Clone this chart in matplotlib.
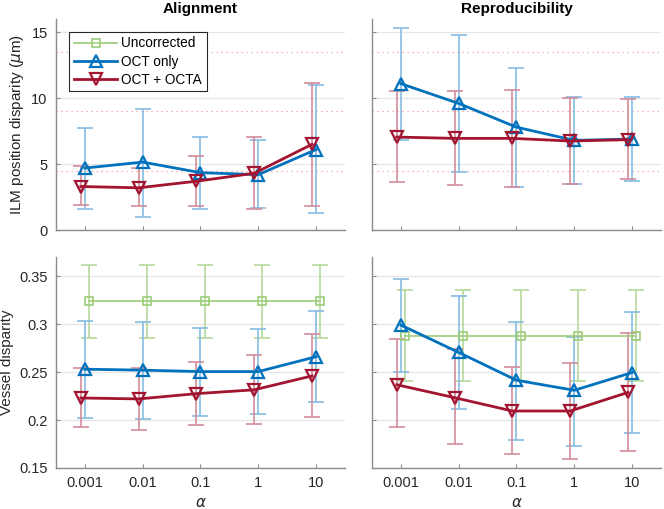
import matplotlib
matplotlib.use('Agg')
import matplotlib.pyplot as plt
import numpy as np

plt.rcParams['font.family'] = ['Liberation Sans', 'DejaVu Sans']
plt.rcParams['mathtext.fontset'] = 'dejavusans'

ALPHAS = [0.001, 0.01, 0.1, 1, 10]
ALPHA_LABELS = ['0.001', '0.01', '0.1', '1', '10']

# ILM position disparity (um) -- alignment
ilm_align_oct = [4.7, 5.15, 4.35, 4.2, 6.1]
ilm_align_oct_lo = [1.6, 1.0, 1.57, 1.64, 1.26]
ilm_align_oct_hi = [7.75, 9.2, 7.07, 6.8, 11.0]
ilm_align_octa = [3.3, 3.2, 3.7, 4.3, 6.5]
ilm_align_octa_lo = [1.9, 1.82, 1.82, 1.62, 1.82]
ilm_align_octa_hi = [4.87, 4.67, 5.58, 7.02, 11.16]

# ILM position disparity (um) -- reproducibility
ilm_repro_oct = [11.1, 9.6, 7.8, 6.8, 6.9]
ilm_repro_oct_lo = [6.8, 4.4, 3.23, 3.46, 3.74]
ilm_repro_oct_hi = [15.3, 14.8, 12.25, 10.1, 10.05]
ilm_repro_octa = [7.05, 6.95, 6.95, 6.75, 6.85]
ilm_repro_octa_lo = [3.66, 3.38, 3.28, 3.48, 3.84]
ilm_repro_octa_hi = [10.55, 10.55, 10.63, 10.0, 9.9]

# reference levels (dotted) in the ILM panels
ilm_ref_levels = [4.5, 9.0, 13.5]

# vessel disparity -- alignment
ves_align_unc = [0.324] * 5
ves_align_unc_lo = [0.286] * 5
ves_align_unc_hi = [0.362] * 5
ves_align_oct = [0.253, 0.252, 0.2505, 0.2505, 0.266]
ves_align_oct_lo = [0.2024, 0.2007, 0.2045, 0.2066, 0.2184]
ves_align_oct_hi = [0.3035, 0.3024, 0.2962, 0.2948, 0.3139]
ves_align_octa = [0.223, 0.222, 0.2275, 0.2315, 0.246]
ves_align_octa_lo = [0.193, 0.1896, 0.1948, 0.1962, 0.2035]
ves_align_octa_hi = [0.2538, 0.2545, 0.26, 0.2677, 0.2896]

# vessel disparity -- reproducibility
ves_repro_unc = [0.288] * 5
ves_repro_unc_lo = [0.2406] * 5
ves_repro_unc_hi = [0.3354] * 5
ves_repro_oct = [0.299, 0.2705, 0.2415, 0.231, 0.2495]
ves_repro_oct_lo = [0.2497, 0.2115, 0.1795, 0.1733, 0.1861]
ves_repro_oct_hi = [0.3469, 0.3292, 0.3021, 0.2868, 0.3128]
ves_repro_octa = [0.2368, 0.2233, 0.2094, 0.2094, 0.2288]
ves_repro_octa_lo = [0.1924, 0.1747, 0.1642, 0.1594, 0.168]
ves_repro_octa_hi = [0.284, 0.2743, 0.2556, 0.2597, 0.2903]

GREEN = '#9ccc78'
BLUE = '#0072bd'
RED = '#a2142f'
BLUE_ERR = '#86bce3'
RED_ERR = '#d28c9b'
GREEN_ERR = '#b4d99a'
AXIS_GRAY = '#8c8c8c'
TEXT = '#262626'

SHIFT = 10 ** 0.07


def draw_series(ax, y, lo, hi, shift, color, ecolor, marker, ms, lw, label):
    x = np.array(ALPHAS) * shift
    y = np.array(y)
    yerr = [y - np.array(lo), np.array(hi) - y]
    ax.errorbar(x, y, yerr=yerr, fmt='none', ecolor=ecolor, elinewidth=1.2,
                capsize=5.5, capthick=1.2, zorder=2)
    ax.plot(x, y, color=color, marker=marker, ms=ms, mfc='none', mew=1.6,
            lw=lw, label=label, zorder=3)


def style_axes(ax, ylim, yticks, yticklabels=None):
    ax.set_xscale('log')
    ax.set_xlim(10 ** -3.5, 10 ** 1.5)
    ax.set_xticks(ALPHAS)
    ax.set_xticklabels(ALPHA_LABELS)
    ax.minorticks_off()
    ax.set_ylim(*ylim)
    ax.set_yticks(yticks)
    if yticklabels is not None:
        ax.set_yticklabels(yticklabels)
    for side in ['top', 'right']:
        ax.spines[side].set_visible(False)
    for side in ['left', 'bottom']:
        ax.spines[side].set_color(AXIS_GRAY)
        ax.spines[side].set_linewidth(1.0)
    ax.tick_params(direction='in', length=3, color=AXIS_GRAY, labelcolor=TEXT,
                   labelsize=10.5, pad=6)
    ax.yaxis.grid(True, color='#e6e6e6', lw=0.9)
    ax.set_axisbelow(True)


fig = plt.figure(figsize=(6.64, 5.09), dpi=100)
W = 0.4352
H = 0.4145
ax_tl = fig.add_axes([0.0843, 0.5481, W, H])
ax_tr = fig.add_axes([0.5602, 0.5481, W, H])
ax_bl = fig.add_axes([0.0843, 0.0806, W, H])
ax_br = fig.add_axes([0.5602, 0.0806, W, H])

# top row: ILM
for ax, oct_, octa in [
    (ax_tl, (ilm_align_oct, ilm_align_oct_lo, ilm_align_oct_hi),
     (ilm_align_octa, ilm_align_octa_lo, ilm_align_octa_hi)),
    (ax_tr, (ilm_repro_oct, ilm_repro_oct_lo, ilm_repro_oct_hi),
     (ilm_repro_octa, ilm_repro_octa_lo, ilm_repro_octa_hi)),
]:
    for lvl in ilm_ref_levels:
        ax.axhline(lvl, color='#f29a9a', lw=0.9, ls=(0, (1, 3)), zorder=1)
    ax.plot([], [], color=GREEN, marker='s', ms=6, mfc='none', mew=1.2, lw=1.2,
            label='Uncorrected')
    draw_series(ax, *oct_, 1.0, BLUE, BLUE_ERR, '^', 9, 2.0, 'OCT only')
    draw_series(ax, *octa, 1 / SHIFT, RED, RED_ERR, 'v', 9, 2.0, 'OCT + OCTA')

style_axes(ax_tl, (0, 16), [0, 5, 10, 15])
style_axes(ax_tr, (0, 16), [0, 5, 10, 15], [])
ax_tl.set_xticklabels([])
ax_tr.set_xticklabels([])

# bottom row: vessels
for ax, unc, oct_, octa in [
    (ax_bl, (ves_align_unc, ves_align_unc_lo, ves_align_unc_hi),
     (ves_align_oct, ves_align_oct_lo, ves_align_oct_hi),
     (ves_align_octa, ves_align_octa_lo, ves_align_octa_hi)),
    (ax_br, (ves_repro_unc, ves_repro_unc_lo, ves_repro_unc_hi),
     (ves_repro_oct, ves_repro_oct_lo, ves_repro_oct_hi),
     (ves_repro_octa, ves_repro_octa_lo, ves_repro_octa_hi)),
]:
    x = np.array(ALPHAS) * SHIFT
    y = np.array(unc[0])
    ax.errorbar(x, y, yerr=[y - np.array(unc[1]), np.array(unc[2]) - y],
                fmt='none', ecolor=GREEN_ERR, elinewidth=1.2, capsize=5.5,
                capthick=1.2, zorder=2)
    ax.plot(x, y, color=GREEN, marker='s', ms=6, mfc='none', mew=1.2, lw=1.2,
            zorder=3)
    draw_series(ax, *oct_, 1.0, BLUE, BLUE_ERR, '^', 9, 2.0, 'OCT only')
    draw_series(ax, *octa, 1 / SHIFT, RED, RED_ERR, 'v', 9, 2.0, 'OCT + OCTA')

style_axes(ax_bl, (0.15, 0.37), [0.15, 0.2, 0.25, 0.3, 0.35],
           ['0.15', '0.2', '0.25', '0.3', '0.35'])
style_axes(ax_br, (0.15, 0.37), [0.15, 0.2, 0.25, 0.3, 0.35], [])

ax_tl.set_title('Alignment', fontsize=11, fontweight='bold', pad=4)
ax_tr.set_title('Reproducibility', fontsize=11, fontweight='bold', pad=4)
ax_tl.set_ylabel(r'ILM position disparity ($\mu$m)', fontsize=11, color=TEXT)
ax_bl.set_ylabel('Vessel disparity', fontsize=11, color=TEXT)
ax_bl.set_xlabel(r'$\alpha$', fontsize=11, color=TEXT)
ax_br.set_xlabel(r'$\alpha$', fontsize=11, color=TEXT)

leg = ax_tl.legend(loc='upper left', bbox_to_anchor=(0.045, 0.94), fontsize=9.8,
                   fancybox=False, framealpha=1, edgecolor='#262626',
                   handlelength=3.2, borderpad=0.35, labelspacing=0.3,
                   handletextpad=0.3, borderaxespad=0)
leg.get_frame().set_linewidth(0.8)

fig.savefig('out.png', dpi=100)
